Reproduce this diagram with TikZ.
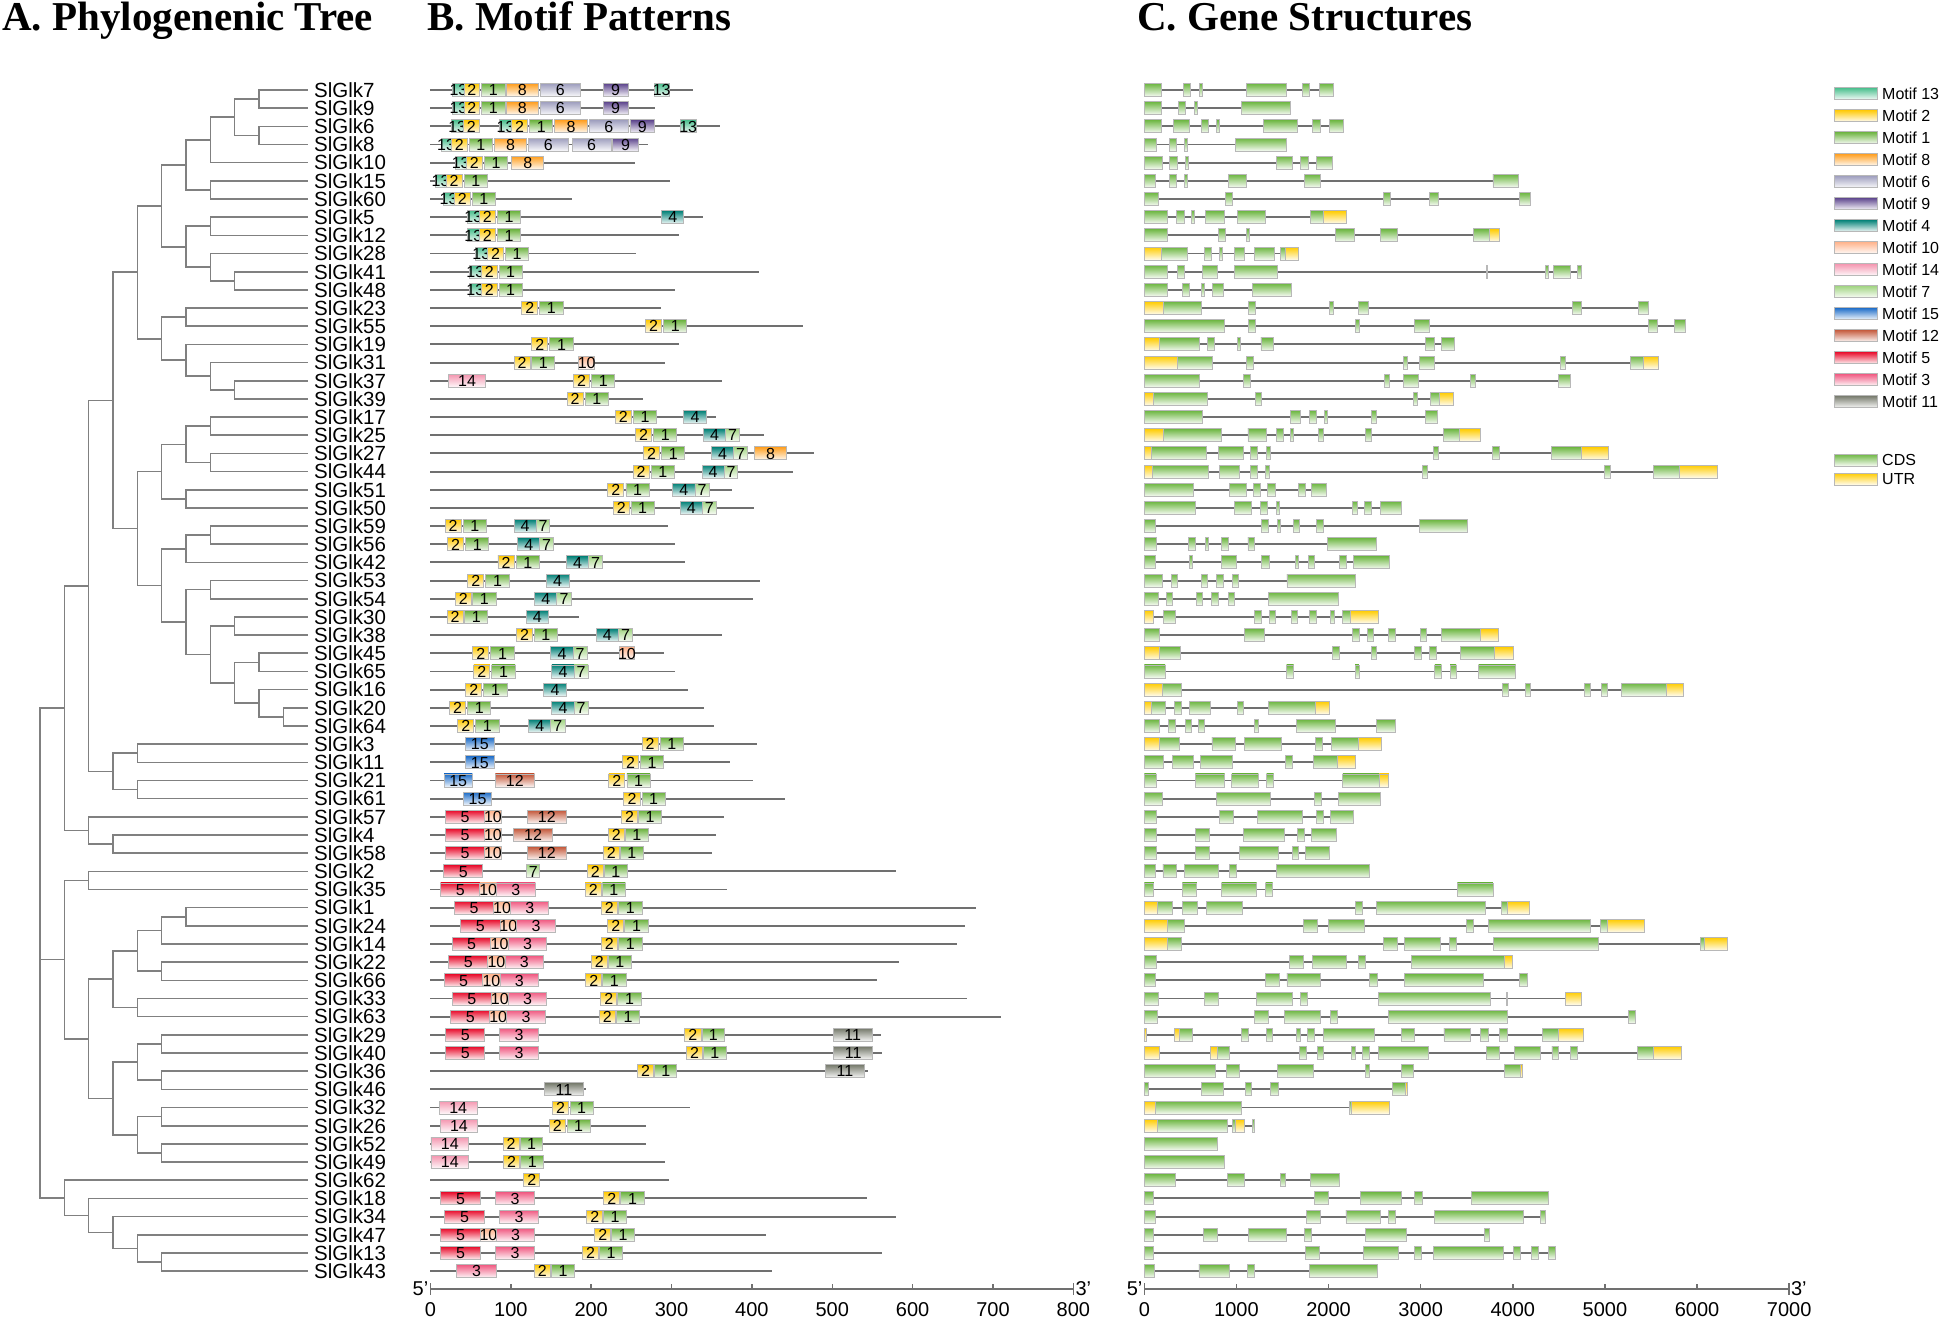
\documentclass[tikz,border=0pt]{standalone}
\usepackage{fontspec}
\setmainfont{Liberation Sans}
\newfontfamily\ttlfont{Liberation Serif}
\pgfmathdeclarefunction{ry}{1}{\pgfmathparse{90+18.17*#1}}
\pgfmathdeclarefunction{lx}{1}{\pgfmathparse{40+24.33*#1}}
\definecolor{M13}{RGB}{72,190,140}
\definecolor{M2}{RGB}{255,200,0}
\definecolor{M1}{RGB}{106,178,60}
\definecolor{M8}{RGB}{255,158,30}
\definecolor{M6}{RGB}{158,158,190}
\definecolor{M9}{RGB}{92,68,140}
\definecolor{M4}{RGB}{0,128,118}
\definecolor{M10}{RGB}{255,178,138}
\definecolor{M14}{RGB}{244,150,176}
\definecolor{M7}{RGB}{160,212,128}
\definecolor{M15}{RGB}{28,108,200}
\definecolor{M12}{RGB}{196,88,58}
\definecolor{M5}{RGB}{232,8,40}
\definecolor{M3}{RGB}{240,88,128}
\definecolor{M11}{RGB}{118,122,108}
\definecolor{CDSc}{RGB}{108,182,64}
\definecolor{UTRc}{RGB}{255,204,0}
\definecolor{linegray}{RGB}{112,112,112}
\definecolor{treegray}{RGB}{128,128,128}
\tikzset{
  box/.style={draw=black!28,line width=0.9pt},
  mt13/.style={box,top color=M13,bottom color=M13!6},
  mt2/.style={box,top color=M2,bottom color=M2!6},
  mt1/.style={box,top color=M1,bottom color=M1!6},
  mt8/.style={box,top color=M8,bottom color=M8!6},
  mt6/.style={box,top color=M6,bottom color=M6!6},
  mt9/.style={box,top color=M9,bottom color=M9!6},
  mt4/.style={box,top color=M4,bottom color=M4!6},
  mt10/.style={box,top color=M10,bottom color=M10!6},
  mt14/.style={box,top color=M14,bottom color=M14!6},
  mt7/.style={box,top color=M7,bottom color=M7!6},
  mt15/.style={box,top color=M15,bottom color=M15!6},
  mt12/.style={box,top color=M12,bottom color=M12!6},
  mt5/.style={box,top color=M5,bottom color=M5!6},
  mt3/.style={box,top color=M3,bottom color=M3!6},
  mt11/.style={box,top color=M11,bottom color=M11!6},
  cds/.style={box,top color=CDSc,bottom color=CDSc!6},
  utr/.style={box,top color=UTRc,bottom color=UTRc!6},
  tree/.style={draw=treegray,line width=1.6pt},
  bb/.style={draw=linegray,line width=1.9pt},
  axisline/.style={draw=linegray,line width=1.5pt},
  gname/.style={anchor=west,inner xsep=6pt,inner ysep=0pt,font=\fontsize{20.5}{24}\selectfont,text height=14.6pt,text depth=0pt},
  blabel/.style={inner sep=0pt,font=\fontsize{16}{18}\selectfont,text height=11.5pt,text depth=0pt},
  lgtext/.style={anchor=west,inner sep=0pt,font=\fontsize{16}{18}\selectfont,text height=11.5pt,text depth=0pt},
  num/.style={inner sep=0pt,font=\fontsize{20}{24}\selectfont,text height=14.3pt,text depth=0pt},
  ttl/.style={anchor=base west,inner sep=0pt,font=\ttlfont\bfseries\fontsize{41}{48}\selectfont},
}
\newcommand\motrow[3]{%
  \draw[bb] (259,{ry(#1)}) -- (#2,{ry(#1)});
  \foreach \a/\b/\k in {#3}{%
    \draw[mt\k] (\a,{ry(#1)-6.5}) rectangle (\b,{ry(#1)+6.5});
    \node[blabel] (m#1x\a) at ({(\a+\b)/2},{ry(#1)}) {\k};
  }}
\newcommand\generow[3]{%
  \draw[bb] (33,{ry(#1)}) -- (#2,{ry(#1)});
  \foreach \a/\b in {#3}{\draw[cds] (\a,{ry(#1)-6.5}) rectangle (\b,{ry(#1)+6.5});}}
\newcommand\utrs[2]{%
  \foreach \a/\b in {#2}{\draw[utr] (\a,{ry(#1)-6.5}) rectangle (\b,{ry(#1)+6.5});}}
\begin{document}
\begin{tikzpicture}[x=1pt,y=-1pt]
\fill[white] (0,0) rectangle (1944,1318);
\useasboundingbox (0,0) rectangle (1944,1318);

% titles
\node[ttl] (tA) at (2,30) {A. Phylogenenic Tree};
\node[ttl] (tB) at (427,30) {B. Motif Patterns};
\node[ttl] (tC) at (1137,30) {C. Gene Structures};

% gene names
\foreach \n [count=\i from 0] in {SlGlk7,SlGlk9,SlGlk6,SlGlk8,SlGlk10,SlGlk15,SlGlk60,SlGlk5,SlGlk12,SlGlk28,SlGlk41,SlGlk48,SlGlk23,SlGlk55,SlGlk19,SlGlk31,SlGlk37,SlGlk39,SlGlk17,SlGlk25,SlGlk27,SlGlk44,SlGlk51,SlGlk50,SlGlk59,SlGlk56,SlGlk42,SlGlk53,SlGlk54,SlGlk30,SlGlk38,SlGlk45,SlGlk65,SlGlk16,SlGlk20,SlGlk64,SlGlk3,SlGlk11,SlGlk21,SlGlk61,SlGlk57,SlGlk4,SlGlk58,SlGlk2,SlGlk35,SlGlk1,SlGlk24,SlGlk14,SlGlk22,SlGlk66,SlGlk33,SlGlk63,SlGlk29,SlGlk40,SlGlk36,SlGlk46,SlGlk32,SlGlk26,SlGlk52,SlGlk49,SlGlk62,SlGlk18,SlGlk34,SlGlk47,SlGlk13,SlGlk43}
  \node[gname] (g\i) at (308,{ry(\i)}) {\n};

% tree internal nodes
\coordinate (root) at ({lx(0)},{ry(47.859)});
\coordinate (n1a) at ({lx(1)},{ry(34.02)});
\coordinate (n1b) at ({lx(1)},{ry(47.859)});
\coordinate (n1c) at ({lx(1)},{ry(60.969)});
\coordinate (n2a) at ({lx(2)},{ry(27.291)});
\coordinate (n2b) at ({lx(2)},{ry(40.75)});
\coordinate (n3a) at ({lx(3)},{ry(17.082)});
\coordinate (n3b) at ({lx(3)},{ry(37.5)});
\coordinate (R) at ({lx(4)},{ry(10.031)});
\coordinate (n4b) at ({lx(4)},{ry(24.133)});
\coordinate (K) at ({lx(5)},{ry(6.375)});
\coordinate (Q) at ({lx(5)},{ry(13.6875)});
\coordinate (F) at ({lx(6)},{ry(4.125)});
\coordinate (J) at ({lx(6)},{ry(8.625)});
\coordinate (D) at ({lx(7)},{ry(2.75)});
\coordinate (E) at ({lx(7)},{ry(5.5)});
\coordinate (C) at ({lx(8)},{ry(1.5)});
\coordinate (A) at ({lx(9)},{ry(0.5)});
\coordinate (B) at ({lx(9)},{ry(2.5)});
\coordinate (G) at ({lx(7)},{ry(7.5)});
\coordinate (I) at ({lx(7)},{ry(9.75)});
\coordinate (H) at ({lx(8)},{ry(10.5)});
\coordinate (M) at ({lx(6)},{ry(12.5)});
\coordinate (P) at ({lx(6)},{ry(14.875)});
\coordinate (O) at ({lx(7)},{ry(15.75)});
\coordinate (N) at ({lx(8)},{ry(16.5)});
\coordinate (W) at ({lx(5)},{ry(21)});
\coordinate (Wb) at ({lx(5)},{ry(27.266)});
\coordinate (U) at ({lx(6)},{ry(19.5)});
\coordinate (V) at ({lx(6)},{ry(22.5)});
\coordinate (S) at ({lx(7)},{ry(18.5)});
\coordinate (T) at ({lx(7)},{ry(20.5)});
\coordinate (Y) at ({lx(6)},{ry(25.25)});
\coordinate (Yb) at ({lx(6)},{ry(29.281)});
\coordinate (X) at ({lx(7)},{ry(24.5)});
\coordinate (Z) at ({lx(7)},{ry(27.5)});
\coordinate (Zb) at ({lx(7)},{ry(31.0625)});
\coordinate (p2930) at ({lx(8)},{ry(29.5)});
\coordinate (p3135) at ({lx(8)},{ry(32.625)});
\coordinate (p3132) at ({lx(9)},{ry(31.5)});
\coordinate (p3335) at ({lx(9)},{ry(33.75)});
\coordinate (p3435) at ({lx(10)},{ry(34.5)});
\coordinate (p3637) at ({lx(4)},{ry(36.5)});
\coordinate (p3839) at ({lx(4)},{ry(38.5)});
\coordinate (p4142) at ({lx(3)},{ry(41.5)});
\coordinate (p4344) at ({lx(2)},{ry(43.5)});
\coordinate (n2c) at ({lx(2)},{ry(52.219)});
\coordinate (p4551) at ({lx(3)},{ry(48.9375)});
\coordinate (p5259) at ({lx(3)},{ry(55.5)});
\coordinate (p4549) at ({lx(4)},{ry(47.375)});
\coordinate (p5051) at ({lx(4)},{ry(50.5)});
\coordinate (p4547) at ({lx(5)},{ry(46.25)});
\coordinate (p4849) at ({lx(5)},{ry(48.5)});
\coordinate (p4546) at ({lx(6)},{ry(45.5)});
\coordinate (p5255) at ({lx(4)},{ry(53.5)});
\coordinate (p5659) at ({lx(4)},{ry(57.5)});
\coordinate (p5253) at ({lx(5)},{ry(52.5)});
\coordinate (p5455) at ({lx(5)},{ry(54.5)});
\coordinate (p5657) at ({lx(5)},{ry(56.5)});
\coordinate (p5859) at ({lx(5)},{ry(58.5)});
\coordinate (p6165) at ({lx(2)},{ry(61.9375)});
\coordinate (p6265) at ({lx(3)},{ry(62.875)});
\coordinate (p6365) at ({lx(4)},{ry(63.75)});
\coordinate (p6465) at ({lx(5)},{ry(64.5)});

\foreach \p/\c in {root/n1a,root/n1b,root/n1c,n1a/n2a,n1a/n2b,n2a/n3a,n2a/n3b,n3a/R,n3a/n4b,R/K,R/Q,K/F,K/J,F/D,F/E,D/C,C/A,C/B,J/G,J/I,I/H,Q/M,Q/P,P/O,O/N,n4b/W,n4b/Wb,W/U,W/V,U/S,U/T,Wb/Y,Wb/Yb,Y/X,Yb/Z,Yb/Zb,Zb/p2930,Zb/p3135,p3135/p3132,p3135/p3335,p3335/p3435,n3b/p3637,n3b/p3839,n2b/p4142,n1b/p4344,n1b/n2c,n2c/p4551,n2c/p5259,p4551/p4549,p4551/p5051,p4549/p4547,p4549/p4849,p4547/p4546,p5259/p5255,p5259/p5659,p5255/p5253,p5255/p5455,p5659/p5657,p5659/p5859,n1c/p6165,p6165/p6265,p6265/p6365,p6365/p6465}
  \draw[tree] (\p) |- (\c);
\foreach \p/\i in {A/0,A/1,B/2,B/3,D/4,E/5,E/6,G/7,G/8,I/9,H/10,H/11,M/12,M/13,P/14,O/15,N/16,N/17,S/18,S/19,T/20,T/21,V/22,V/23,X/24,X/25,Y/26,Z/27,Z/28,p2930/29,p2930/30,p3132/31,p3132/32,p3335/33,p3435/34,p3435/35,p3637/36,p3637/37,p3839/38,p3839/39,n2b/40,p4142/41,p4142/42,p4344/43,p4344/44,p4546/45,p4546/46,p4547/47,p4849/48,p4849/49,p5051/50,p5051/51,p5253/52,p5253/53,p5455/54,p5455/55,p5657/56,p5657/57,p5859/58,p5859/59,n1c/60,p6165/61,p6265/62,p6365/63,p6465/64,p6465/65}
  \draw[tree] (\p) |- (g\i.west);

% ---------------- motif panel ----------------
\begin{scope}[xshift=300pt,x=0.50378pt]
\motrow{0}{780}{303/326/13,326/356/2,360/407/1,410/473/8,477/556/6,602/651/9,703/733/13}
\motrow{1}{704}{303/326/13,326/356/2,360/407/1,410/473/8,477/556/6,602/651/9}
\motrow{2}{833}{300/324/13,324/356/2,396/420/13,420/452/2,456/502/1,506/570/8,574/652/6,655/704/9,755/786/13}
\motrow{3}{690}{280/300/13,300/332/2,336/382/1,386/450/8,454/532/6,540/618/6,621/671/9}
\motrow{4}{665}{308/330/13,330/362/2,366/412/1,420/484/8}
\motrow{5}{735}{268/290/13,290/322/2,326/372/1}
\motrow{6}{539}{284/306/13,306/338/2,342/388/1}
\motrow{7}{800}{332/356/13,356/388/2,392/438/1,718/762/4}
\motrow{8}{752}{332/356/13,356/388/2,392/438/1}
\motrow{9}{667}{348/372/13,372/404/2,408/454/1}
\motrow{10}{912}{336/360/13,360/392/2,395/441/1}
\motrow{11}{744}{336/360/13,360/392/2,395/441/1}
\motrow{12}{716}{440/472/2,476/522/1}
\motrow{13}{998}{686/718/2,722/768/1}
\motrow{14}{752}{460/492/2,496/542/1}
\motrow{15}{725}{425/457/2,460/506/1,553/585/10}
\motrow{16}{838}{294/369/14,543/575/2,579/625/1}
\motrow{17}{681}{530/562/2,566/612/1}
\motrow{18}{826}{626/658/2,662/708/1,762/806/4}
\motrow{19}{922}{666/698/2,702/748/1,801/845/4,845/872/7}
\motrow{20}{1020}{682/714/2,718/764/1,817/861/4,861/888/7,902/966/8}
\motrow{21}{978}{661/693/2,697/743/1,798/842/4,842/869/7}
\motrow{22}{857}{611/643/2,647/693/1,740/784/4,784/812/7}
\motrow{23}{902}{622/654/2,657/703/1,755/799/4,799/826/7}
\motrow{24}{730}{288/320/2,324/370/1,425/469/4,469/496/7}
\motrow{25}{744}{293/325/2,329/375/1,432/476/4,476/503/7}
\motrow{26}{764}{393/425/2,429/475/1,529/573/4,573/600/7}
\motrow{27}{914}{333/365/2,369/415/1,489/534/4}
\motrow{28}{900}{308/340/2,343/389/1,466/510/4,510/538/7}
\motrow{29}{553}{292/324/2,327/373/1,449/493/4}
\motrow{30}{838}{430/462/2,465/511/1,588/632/4,632/660/7}
\motrow{31}{722}{343/375/2,379/425/1,498/542/4,542/570/7,634/664/10}
\motrow{32}{744}{345/377/2,381/427/1,500/544/4,544/572/7}
\motrow{33}{770}{329/361/2,365/411/1,484/529/4}
\motrow{34}{802}{297/329/2,333/379/1,500/544/4,544/572/7}
\motrow{35}{822}{313/345/2,349/395/1,454/498/4,498/526/7}
\motrow{36}{907}{329/385/15,679/711/2,715/761/1}
\motrow{37}{853}{329/385/15,640/672/2,676/722/1}
\motrow{38}{899}{286/342/15,388/465/12,613/645/2,649/695/1}
\motrow{39}{962}{325/380/15,643/675/2,679/725/1}
\motrow{40}{841}{289/366/5,366/400/10,451/529/12,638/670/2,672/718/1}
\motrow{41}{826}{289/366/5,366/400/10,424/501/12,612/644/2,646/691/1}
\motrow{42}{817}{289/366/5,366/400/10,451/529/12,602/634/2,636/681/1}
\motrow{43}{1183}{285/363/5,450/476/7,570/602/2,604/650/1}
\motrow{44}{847}{279/357/5,357/390/10,390/467/3,566/598/2,600/646/1}
\motrow{45}{1342}{307/384/5,384/418/10,418/494/3,598/630/2,632/679/1}
\motrow{46}{1319}{319/397/5,397/430/10,430/507/3,611/643/2,645/691/1}
\motrow{47}{1305}{302/379/5,379/413/10,413/490/3,598/630/2,632/679/1}
\motrow{48}{1188}{295/373/5,373/407/10,407/484/3,578/610/2,612/658/1}
\motrow{49}{1146}{286/363/5,363/397/10,397/474/3,567/599/2,601/647/1}
\motrow{50}{1323}{302/380/5,380/413/10,413/490/3,597/629/2,631/677/1}
\motrow{51}{1391}{299/377/5,377/410/10,410/487/3,594/626/2,628/674/1}
\motrow{52}{1153}{289/367/5,396/474/3,763/796/2,798/843/1,1058/1136/11}
\motrow{53}{1155}{289/367/5,396/474/3,767/799/2,801/846/1,1059/1137/11}
\motrow{54}{1128}{670/702/2,704/748/1,1043/1120/11}
\motrow{55}{567}{485/563/11}
\motrow{56}{775}{276/352/14,501/533/2,536/582/1}
\motrow{57}{686}{278/353/14,495/527/2,530/576/1}
\motrow{58}{686}{260/335/14,403/435/2,437/482/1}
\motrow{59}{724}{260/335/14,404/436/2,438/484/1}
\motrow{60}{733}{444/476/2}
\motrow{61}{1126}{279/358/5,388/466/3,603/635/2,637/683/1}
\motrow{62}{1184}{287/366/5,396/474/3,569/601/2,603/648/1}
\motrow{63}{925}{279/358/5,358/390/10,390/466/3,585/617/2,619/664/1}
\motrow{64}{1155}{279/358/5,388/466/3,561/593/2,595/640/1}
\motrow{65}{937}{311/390/3,465/497/2,499/545/1}
% axis
\draw[axisline] (259,1289) -- (1535,1289);
\draw[axisline] (259,1283) -- (259,1295);
\draw[axisline] (1535,1283) -- (1535,1295);
\foreach \v [count=\k from 0] in {0,100,200,300,400,500,600,700,800}{
  \draw[axisline] ({259+1.595*\v},1289) -- ({259+1.595*\v},1284);
  \node[num] (ma\k) at ({259+1.595*\v},1309) {\v};
}
\node[num,anchor=east] (m5p) at (255,1288) {5'};
\node[num,anchor=west] (m3p) at (1539,1288) {3'};
\end{scope}

% ---------------- gene structure panel ----------------
\begin{scope}[xshift=1130pt,x=0.43365pt]
\generow{0}{469}{33/73,123/140,160/167,268/360,398/414,436/469}
\generow{1}{371}{33/73,111/128,148/155,257/371}
\generow{2}{492}{33/73,100/137,164/181,199/206,308/385,421/438,459/492}
\generow{3}{361}{33/62,90/106,126/133,243/361}
\generow{4}{466}{33/74,92/109,128/135,338/375,392/412,430/466}
\generow{5}{895}{33/59,91/107,125/133,226/268,402/438,837/895}
\generow{6}{924}{33/66,221/237,584/600,690/712,899/924}
\generow{7}{500}{33/86,108/125,141/149,174/218,247/312,416/446}
\utrs{7}{446/500}
\generow{8}{853}{33/86,204/220,268/276,473/517,577/617,792/829}
\utrs{8}{829/853}
\generow{9}{388}{73/133,172/187,206/214,240/263,286/332,348/358}
\utrs{9}{33/73,358/388}
\generow{10}{1042}{33/87,109/126,168/201,240/340,823/825,959/965,977/1015,1032/1042}
\generow{11}{373}{33/87,120/136,165/172,191/215,283/373}
\generow{12}{1196}{78/165,273/289,460/469,527/549,1021/1041,1172/1196}
\utrs{12}{33/78}
\generow{13}{1281}{33/217,274/290,520/528,655/690,1196/1217,1255/1281}
\generow{14}{749}{67/161,179/195,248/255,302/331,681/701,719/749}
\utrs{14}{33/67}
\generow{15}{1219}{109/190,268/284,631/640,668/703,993/1003,1154/1184}
\utrs{15}{33/109,1184/1219}
\generow{16}{1016}{33/159,261/277,587/598,631/664,785/797,989/1016}
\generow{17}{746}{55/178,289/304,653/662,693/714}
\utrs{17}{33/55,714/746}
\generow{18}{708}{33/168,370/393,414/431,448/456,557/569,681/708}
\generow{19}{809}{76/210,272/315,338/354,370/378,435/446,543/557,722/760}
\utrs{19}{33/76,760/809}
\generow{20}{1104}{50/177,203/261,277/293,314/323,699/712,836/851,972/1042}
\utrs{20}{33/50,1042/1104}
\generow{21}{1354}{52/182,207/253,277/293,313/322,674/687,1093/1107,1208/1268}
\utrs{21}{33/52,1268/1354}
\generow{22}{453}{33/147,229/268,285/301,317/336,389/404,418/453}
\generow{23}{625}{33/151,241/281,300/316,337/345,512/524,541/557,578/625}
\generow{24}{778}{33/58,303/320,339/348,378/391,430/446,668/778}
\generow{25}{569}{33/60,134/150,173/182,212/226,272/286,455/569}
\generow{26}{599}{33/58,137/143,210/245,304/321,381/388,412/426,483/498,515/599}
\generow{27}{520}{33/75,95/110,165/178,200/215,236/250,362/520}
\generow{28}{480}{33/66,83/99,153/166,187/203,227/241,319/480}
\generow{29}{572}{78/104,287/302,322/335,372/387,414/429,463/471,489/509}
\utrs{29}{33/54,509/572}
\generow{30}{850}{33/69,264/309,514/528,548/562,596/611,669/683,719/808}
\utrs{30}{808/850}
\generow{31}{884}{68/117,467/483,557/568,656/671,691/707,762/840}
\utrs{31}{33/68,840/884}
\generow{32}{889}{33/81,361/377,519/528,703/718,738/752,804/889}
\generow{33}{1277}{75/118,858/873,912/923,1047/1062,1087/1101,1133/1237}
\utrs{33}{33/75,1237/1277}
\generow{34}{460}{50/81,103/119,138/186,248/262,319/427}
\utrs{34}{33/50,427/460}
\generow{35}{612}{33/68,89/105,127/141,158/172,287/296,384/474,568/612}
\generow{36}{580}{67/113,189/242,264/349,428/444,464/526}
\utrs{36}{33/67,526/580}
\generow{37}{520}{33/77,98/146,162/237,358/374,423/478}
\utrs{37}{478/520}
\generow{38}{597}{33/60,151/218,235/296,315/331,491/575}
\utrs{38}{575/597}
\generow{39}{577}{33/75,199/323,426/442,481/577}
\generow{40}{515}{33/60,206/239,293/398,430/446,463/515}
\generow{41}{475}{33/60,151/184,262/355,387/403,419/475}
\generow{42}{461}{33/60,151/184,252/342,374/389,405/461}
\generow{43}{552}{33/58,76/108,125/205,230/246,337/552}
\generow{44}{837}{33/55,121/154,211/292,313/329,755/837}
\generow{45}{920}{63/98,122/155,176/259,521/537,569/820,856/871}
\utrs{45}{33/63,871/920}
\generow{46}{1187}{86/125,400/433,458/541,776/792,826/1062,1085/1101}
\utrs{46}{33/86,1101/1187}
\generow{47}{1378}{86/119,584/617,632/717,736/752,838/1081,1316/1325}
\utrs{47}{33/86,1325/1378}
\generow{48}{881}{33/62,368/400,421/499,527/543,649/864}
\utrs{48}{864/881}
\generow{49}{916}{33/58,312/345,362/439,553/570,633/815,897/916}
\generow{50}{1041}{33/65,172/204,291/375,393/409,572/830,868/870}
\utrs{50}{1004/1041}
\generow{51}{1165}{33/64,288/320,356/440,462/479,597/870,1149/1165}
\generow{52}{1046}{115/143,257/273,315/329,384/393,409/426,447/563,625/655,724/784,809/826,853/870,951/988}
\utrs{52}{33/38,102/115,988/1046}
\generow{53}{1272}{201/229,390/407,432/447,510/520,535/552,572/689,821/851,887/947,973/989,1015/1031,1170/1206}
\utrs{53}{33/69,186/201,1206/1272}
\generow{54}{904}{33/196,222/253,341/422,542/552,625/654,864/900}
\utrs{54}{900/904}
\generow{55}{640}{33/42,164/216,267/280,323/342,606/636}
\utrs{55}{636/640}
\generow{56}{598}{58/257,505/511}
\utrs{56}{33/58,511/598}
\generow{57}{287}{64/225,237/244,282/287}
\utrs{57}{33/64,244/265}
\generow{58}{202}{33/202}
\generow{59}{217}{33/217}
\generow{60}{483}{33/105,225/264,348/359,417/483}
\generow{61}{965}{33/55,426/458,531/627,657/674,788/965}
\generow{62}{959}{33/59,407/438,498/577,596/611,703/907,946/959}
\generow{63}{828}{33/55,169/201,273/361,402/418,543/638,817/828}
\generow{64}{980}{33/55,404/436,539/618,656/671,700/860,885/900,926/941,965/980}
\generow{65}{571}{33/57,159/230,270/287,413/571}
% axis
\draw[axisline] (33,1289) -- (1520,1289);
\draw[axisline] (33,1283) -- (33,1295);
\draw[axisline] (1520,1283) -- (1520,1295);
\foreach \v [count=\k from 0] in {0,1000,2000,3000,4000,5000,6000,7000}{
  \draw[axisline] ({33+0.21243*\v},1289) -- ({33+0.21243*\v},1284);
  \node[num] (ga\k) at ({33+0.21243*\v},1309) {\v};
}
\node[num,anchor=east] (g5p) at (29,1288) {5'};
\node[num,anchor=west] (g3p) at (1524,1288) {3'};
\end{scope}

% ---------------- legend ----------------
\foreach \m [count=\k from 0] in {13,2,1,8,6,9,4,10,14,7,15,12,5,3,11}{
  \draw[mt\m] (1834,{93.7+22*\k-6}) rectangle (1877,{93.7+22*\k+6});
  \node[lgtext] (lg\m) at (1882,{93.7+22*\k}) {Motif \m};
}
\draw[cds] (1834,454) rectangle (1877,466);
\node[lgtext] (lgcds) at (1882,460) {CDS};
\draw[utr] (1834,473) rectangle (1877,485);
\node[lgtext] (lgutr) at (1882,479) {UTR};
\end{tikzpicture}
\end{document}
